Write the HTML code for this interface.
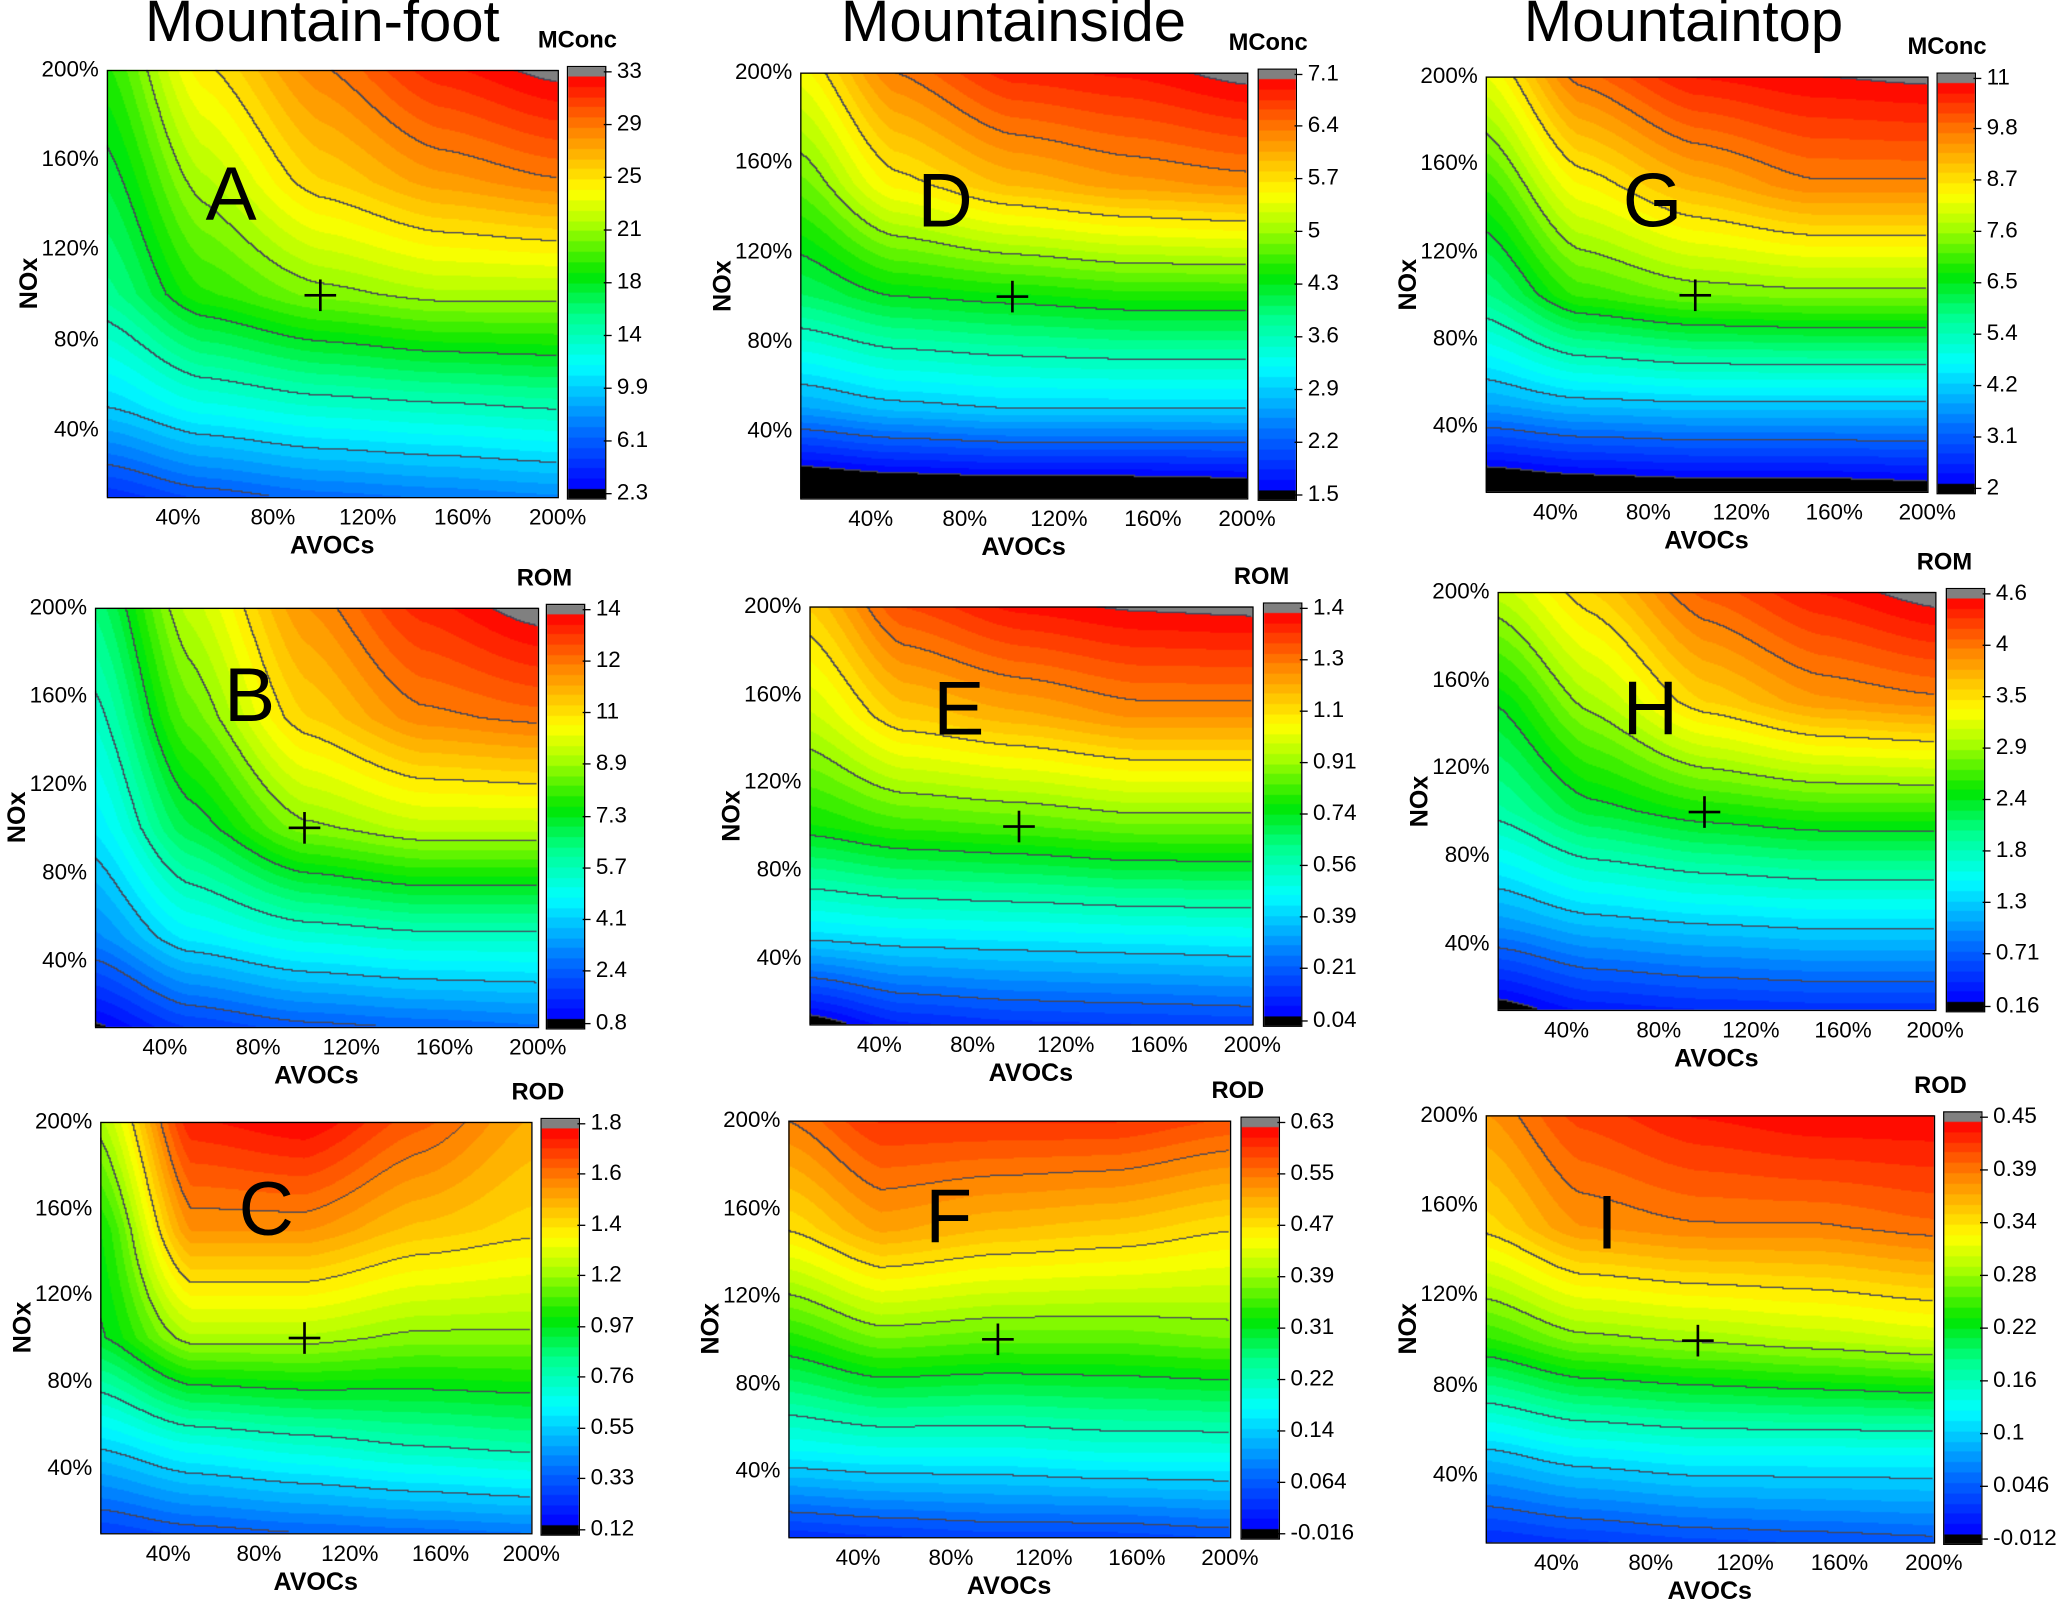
<!DOCTYPE html>
<html><head><meta charset="utf-8">
<style>
html,body{margin:0;padding:0;background:#fff;}
body{width:2067px;height:1607px;overflow:hidden;position:relative;}
#wrap{position:absolute;left:0;top:0;width:1568px;height:1219px;transform:scale(1.31824);transform-origin:0 0;font-family:"Liberation Sans",Arial,sans-serif;}
.abs{position:absolute;white-space:nowrap;}
.tick{font-size:17px;color:#000;}
.axt{font-size:19px;font-weight:bold;}
.title{font-size:44px;}
.letter{font-size:58px;}
.cbh{font-size:18px;font-weight:bold;}
.cl{font-size:15px;color:#000;}
canvas{position:absolute;}
.frame{position:absolute;border:1px solid #000;box-sizing:border-box;}
</style></head>
<body>
<div id="wrap">
<div class="abs title" style="left:110px;top:-8px;">Mountain-foot</div>
<div class="abs title" style="left:638px;top:-8px;">Mountainside</div>
<div class="abs title" style="left:1156px;top:-8px;">Mountaintop</div>
</div>
<script>
// grid axes (percent)
const avocs = [10, 50, 100, 150, 200];
const noxLevels = [200, 150, 100, 50, 10]; // rows top to bottom
const ticksPct = [40, 80, 120, 160, 200];

// panel values (rows = NOx 200,150,100,50,10 ; cols = AVOCs 10,50,100,150,200)
const zA = [[19,25,29,32,33.5],[17,22,26,28,29],[15,19,21,22,22],[10,12,13,13.5,14],[4,5.5,6.5,7,7.5]];
const zB = [[6.5,9.5,12,13.5,14.3],[5.5,8.5,11,12.2,12.5],[4.5,7,8.9,9.5,9.5],[3,4.5,5.2,5.5,5.5],[0.7,1.8,2.3,2.5,2.7]];
const zC = [[1.2,1.75,1.8,1.65,1.5],[1.0,1.55,1.55,1.45,1.4],[0.95,1.2,1.2,1.15,1.15],[0.55,0.65,0.7,0.75,0.78],[0.25,0.3,0.33,0.35,0.37]];
const zD = [[5.5,6.4,6.9,7.0,7.2],[4.8,5.6,6.0,6.2,6.3],[4.0,4.3,4.4,4.5,4.5],[2.6,2.8,2.9,2.9,2.9],[0.9,1.0,1.05,1.05,1.1]];
const zE = [[1.1,1.3,1.38,1.41,1.42],[0.95,1.1,1.15,1.2,1.2],[0.75,0.8,0.82,0.85,0.85],[0.4,0.42,0.43,0.44,0.45],[0.0,0.1,0.13,0.14,0.15]];
const zF = [[0.55,0.6,0.6,0.6,0.58],[0.47,0.52,0.5,0.49,0.47],[0.33,0.37,0.36,0.36,0.37],[0.18,0.19,0.19,0.2,0.2],[0.02,0.03,0.04,0.04,0.05]];
const zG = [[8.3,10,10.8,11,11.1],[7,8.5,9.3,9.8,9.8],[5.8,7,7.4,7.5,7.5],[3.8,4.1,4.2,4.2,4.2],[1.3,1.5,1.6,1.6,1.7]];
const zH = [[3.1,3.6,4.2,4.5,4.7],[2.4,3.0,3.6,3.9,4.0],[1.9,2.3,2.5,2.6,2.6],[1.0,1.2,1.3,1.35,1.35],[0.05,0.3,0.38,0.42,0.43]];
const zI = [[0.38,0.42,0.44,0.45,0.45],[0.34,0.38,0.39,0.39,0.4],[0.24,0.27,0.28,0.29,0.3],[0.1,0.12,0.13,0.13,0.13],[0.01,0.02,0.03,0.035,0.04]];

const cbA = ["2.3","6.1","9.9","14","18","21","25","29","33"];
const cbB = ["0.8","2.4","4.1","5.7","7.3","8.9","11","12","14"];
const cbC = ["0.12","0.33","0.55","0.76","0.97","1.2","1.4","1.6","1.8"];
const cbD = ["1.5","2.2","2.9","3.6","4.3","5","5.7","6.4","7.1"];
const cbE = ["0.04","0.21","0.39","0.56","0.74","0.91","1.1","1.3","1.4"];
const cbF = ["-0.016","0.064","0.14","0.22","0.31","0.39","0.47","0.55","0.63"];
const cbG = ["2","3.1","4.2","5.4","6.5","7.6","8.7","9.8","11"];
const cbH = ["0.16","0.71","1.3","1.8","2.4","2.9","3.5","4","4.6"];
const cbI = ["-0.012","0.046","0.1","0.16","0.22","0.28","0.34","0.39","0.45"];

const panels = [
 {id:'a',L:'A',z:zA,cb:cbA,min:2.3,max:33,h:'MConc',x:81,y:53,w:342,hh:324,cx:430,lx:178,ly:150},
 {id:'d',L:'D',z:zD,cb:cbD,min:1.5,max:7.1,h:'MConc',x:607,y:55,w:339,hh:323,cx:954,lx:718,ly:155},
 {id:'g',L:'G',z:zG,cb:cbG,min:2,max:11,h:'MConc',x:1127,y:58,w:335,hh:315,cx:1469,lx:1253,ly:155},
 {id:'b',L:'B',z:zB,cb:cbB,min:0.8,max:14,h:'ROM',x:72,y:461,w:336,hh:318,cx:414,lx:192,ly:530},
 {id:'e',L:'E',z:zE,cb:cbE,min:0.04,max:1.4,h:'ROM',x:614,y:460,w:336,hh:317,cx:958,lx:730,ly:540},
 {id:'h',L:'H',z:zH,cb:cbH,min:0.16,max:4.6,h:'ROM',x:1136,y:449,w:332,hh:317,cx:1476,lx:1253,ly:540},
 {id:'c',L:'C',z:zC,cb:cbC,min:0.12,max:1.8,h:'ROD',x:76,y:851,w:327,hh:312,cx:410,lx:203,ly:920},
 {id:'f',L:'F',z:zF,cb:cbF,min:-0.016,max:0.63,h:'ROD',x:598,y:850,w:335,hh:316,cx:941,lx:724,ly:925},
 {id:'i',L:'I',z:zI,cb:cbI,min:-0.012,max:0.45,h:'ROD',x:1127,y:846,w:340,hh:324,cx:1474,lx:1233,ly:930}
];

const stops=[[0,[0,0,255]],[0.14,[0,110,255]],[0.3,[0,255,255]],[0.42,[0,255,140]],[0.52,[0,230,0]],[0.64,[170,255,0]],[0.72,[255,255,0]],[0.86,[255,140,0]],[1,[255,0,0]]];
function cmap(t){
  t=Math.max(0,Math.min(1,t));
  for(let i=1;i<stops.length;i++){ if(t<=stops[i][0]){const a=stops[i-1],b=stops[i];const f=(t-a[0])/(b[0]-a[0]);return a[1].map((v,k)=>Math.round(v+(b[1][k]-v)*f));}}
  return stops[stops.length-1][1];
}
function seg(arr,v){
  for(let i=0;i<arr.length-1;i++){ if(v<=arr[i+1]) return [i,(v-arr[i])/(arr[i+1]-arr[i])]; }
  return [arr.length-2,1];
}
const noxAsc=noxLevels.slice().reverse();
function smooth(f){return f*f*(3-2*f)*0.5+f*0.5;}
function sample(z,a,n){
  const [ci,cf0]=seg(avocs,a); const [ri0,rf0]=seg(noxAsc,n);
  const cf=smooth(cf0), rf=rf0;
  const r0=4-ri0, r1=3-ri0;
  const v00=z[r0][ci],v01=z[r0][ci+1],v10=z[r1][ci],v11=z[r1][ci+1];
  const lo=v00+(v01-v00)*cf, hi=v10+(v11-v10)*cf;
  return lo+(hi-lo)*rf;
}
const xPix=(p,v)=>p.x+(v-10)/190*p.w;
const yPix=(p,v)=>p.y+p.hh-(v-10)/190*p.hh;
const wrap=document.getElementById('wrap');
function addDiv(cls,name,txt,st){const d=document.createElement('div');d.className='abs '+cls;


d.textContent=txt;d.style.cssText=st;wrap.appendChild(d);return d;}

panels.forEach(p=>{
  const NB=40;
  const cv=document.createElement('canvas');
  
  
  cv.width=p.w;cv.height=p.hh;cv.style.left=p.x+'px';cv.style.top=p.y+'px';
  wrap.appendChild(cv);
  const ctx=cv.getContext('2d');const img=ctx.createImageData(p.w,p.hh);
  const lev=new Int16Array(p.w*p.hh);
  for(let j=0;j<p.hh;j++)for(let i=0;i<p.w;i++){
    const a=10+(i+0.5)/p.w*190, n=200-(j+0.5)/p.hh*190;
    const v=sample(p.z,a,n);
    const t=(v-p.min)/(p.max-p.min);
    lev[j*p.w+i]=Math.floor(t*8);
    let c;
    if(t<0) c=[0,0,0]; else if(t>1) c=[128,128,128]; else c=cmap((Math.floor(t*NB)+0.5)/NB);
    const k=(j*p.w+i)*4;img.data[k]=c[0];img.data[k+1]=c[1];img.data[k+2]=c[2];img.data[k+3]=255;
  }
  for(let j=0;j<p.hh-1;j++)for(let i=0;i<p.w-1;i++){
    const q=j*p.w+i; if(lev[q]!==lev[q+1]||lev[q]!==lev[q+p.w]){const k=q*4;img.data[k]=70;img.data[k+1]=70;img.data[k+2]=90;}
  }
  ctx.putImageData(img,0,0);
  const fr=document.createElement('div');fr.className='frame';
  
  
  fr.style.cssText=`left:${p.x}px;top:${p.y}px;width:${p.w+1}px;height:${p.hh+1}px;`;wrap.appendChild(fr);
  const cxp=xPix(p,100), cyp=yPix(p,100);
  const ch=document.createElement('div');
  
  
  ch.style.cssText=`position:absolute;left:${cxp-12}px;top:${cyp-12}px;width:24px;height:24px;`;
  ch.innerHTML='<div style="position:absolute;left:11px;top:0;width:2px;height:24px;background:#000"></div><div style="position:absolute;left:0;top:11px;width:24px;height:2px;background:#000"></div>';
  wrap.appendChild(ch);
  addDiv('letter','panel-letter-'+p.id,p.L,`left:${p.lx-22}px;top:${p.ly-36}px;`);
  ticksPct.forEach(v=>{
    const xx=xPix(p,v);
    addDiv('tick','x-tick-'+p.id,v+'%',`left:${xx-22}px;top:${p.y+p.hh+6}px;width:44px;text-align:center;`);
    const yy=yPix(p,v);
    addDiv('tick','y-tick-'+p.id,v+'%',`left:${p.x-60}px;top:${yy-10}px;width:54px;text-align:right;`);
  });
  addDiv('axt','x-axis-title-'+p.id,'AVOCs',`left:${p.x+p.w/2-40}px;top:${p.y+p.hh+27}px;width:80px;text-align:center;`);
  addDiv('axt','y-axis-title-'+p.id,'NOx',`left:${p.x-88}px;top:${p.y+p.hh/2-11}px;width:60px;text-align:center;transform:rotate(-90deg);`);
  const cbh=p.hh+3, cby=p.y-3, cap=7;
  const cb=document.createElement('canvas');
  
  
  cb.width=28;cb.height=cbh;cb.style.left=p.cx+'px';cb.style.top=cby+'px';cb.style.border='1px solid #000';cb.style.boxSizing='border-box';
  wrap.appendChild(cb);
  const c2=cb.getContext('2d');
  c2.fillStyle='#808080';c2.fillRect(0,0,28,cap);
  c2.fillStyle='#000';c2.fillRect(0,cbh-cap,28,cap);
  const inner=cbh-2*cap;
  for(let j=0;j<inner;j++){const t=1-(j+0.5)/inner;const c=cmap((Math.floor(t*NB)+0.5)/NB);c2.fillStyle=`rgb(${c[0]},${c[1]},${c[2]})`;c2.fillRect(0,cap+j,28,1);}
  const top=cby+cap/2, bot=cby+cbh-cap/2;
  p.cb.forEach((s,k)=>{
    const yy=bot-(bot-top)*k/(p.cb.length-1);
    const tk=document.createElement('div');
    
    
    tk.style.cssText=`position:absolute;left:${p.cx+28}px;top:${yy}px;width:6px;height:1px;background:#000;`;wrap.appendChild(tk);
    addDiv('tick','colorbar-label-'+p.id,s,`left:${p.cx+38}px;top:${yy-10}px;`);
  });
  addDiv('cbh','colorbar-title-'+p.id,p.h,`left:${p.cx-22}px;top:${cby-30}px;`);
});
</script>
</body></html>
